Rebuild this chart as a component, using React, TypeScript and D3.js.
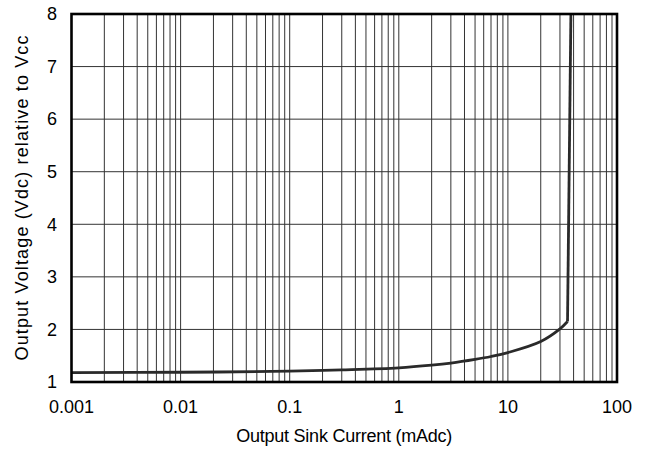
import React from "react";
import * as d3 from "d3";

const xTickValues = [0.001, 0.01, 0.1, 1, 10, 100];
const xTickLabels = ["0.001", "0.01", "0.1", "1", "10", "100"];
const yTickValues = [1, 2, 3, 4, 5, 6, 7, 8];

// smooth part of the curve (current mA, voltage V)
const curveCurrent = [0.001, 0.01, 0.1, 0.3, 1, 2, 3, 5, 7, 10, 20, 30, 35.2];
const curveVoltage = [1.18, 1.185, 1.205, 1.23, 1.27, 1.32, 1.36, 1.43, 1.485, 1.56, 1.77, 2.01, 2.15];
// steep tail
const tailCurrent = [35.2, 37.8];
const tailVoltage = [2.15, 8];

const W = 645;
const H = 452;
const margin = { left: 71.5, right: 28, top: 14, bottom: 70 };

export default function App() {
  const x = d3.scaleLog().domain([0.001, 100]).range([margin.left, W - margin.right]);
  const y = d3.scaleLinear().domain([1, 8]).range([H - margin.bottom, margin.top]);

  const minor: number[] = [];
  for (let e = -3; e < 2; e++) {
    for (let m = 1; m <= 9; m++) {
      const v = m * Math.pow(10, e);
      if (v > 0.001 && v < 100) minor.push(v);
    }
  }

  const smooth = d3
    .line<number>()
    .x((_, i) => x(curveCurrent[i]))
    .y((d) => y(d))
    .curve(d3.curveCatmullRom.alpha(0.5))(curveVoltage) as string;
  const tail = d3
    .line<number>()
    .x((_, i) => x(tailCurrent[i]))
    .y((d) => y(d))(tailVoltage) as string;

  const [x0, x1] = x.range();
  const [y0, y1] = y.range();
  const font = "'Liberation Sans', Arial, sans-serif";

  return (
    <svg width={W} height={H} style={{ position: "absolute", left: 0, top: 0 }}>
      <rect width={W} height={H} fill="#fff" />
      {minor.map((v) => (
        <line key={"v" + v} x1={x(v)} x2={x(v)} y1={y1} y2={y0} stroke="#333" strokeWidth={1} />
      ))}
      {yTickValues.slice(1, -1).map((v) => (
        <line key={"h" + v} x1={x0} x2={x1} y1={y(v)} y2={y(v)} stroke="#333" strokeWidth={1} />
      ))}
      <path d={smooth} fill="none" stroke="#2a2a2a" strokeWidth={2.8} strokeLinejoin="round" />
      <path d={tail} fill="none" stroke="#2a2a2a" strokeWidth={2.8} strokeLinejoin="round" />
      <rect x={x0} y={y1} width={x1 - x0} height={y0 - y1} fill="none" stroke="#000" strokeWidth={2.6} />
      {xTickValues.map((v, i) => (
        <text key={"xt" + v} x={x(v)} y={413} textAnchor="middle" fontFamily={font} fontSize={18} fill="#000">
          {xTickLabels[i]}
        </text>
      ))}
      {yTickValues.map((v) => (
        <text key={"yt" + v} x={57} y={y(v)} dy="0.35em" textAnchor="end" fontFamily={font} fontSize={18} fill="#000">
          {v}
        </text>
      ))}
      <text
        x={(x0 + x1) / 2}
        y={441.5}
        textAnchor="middle"
        fontFamily={font}
        fontSize={18}
        fill="#000"
        textLength={216}
        lengthAdjust="spacing"
      >
        Output Sink Current (mAdc)
      </text>
      <text
        transform={`translate(28.3, ${(y0 + y1) / 2}) rotate(-90)`}
        textAnchor="middle"
        fontFamily={font}
        fontSize={18}
        fill="#000"
        textLength={325}
        lengthAdjust="spacing"
      >
        Output Voltage (Vdc) relative to Vcc
      </text>
    </svg>
  );
}
